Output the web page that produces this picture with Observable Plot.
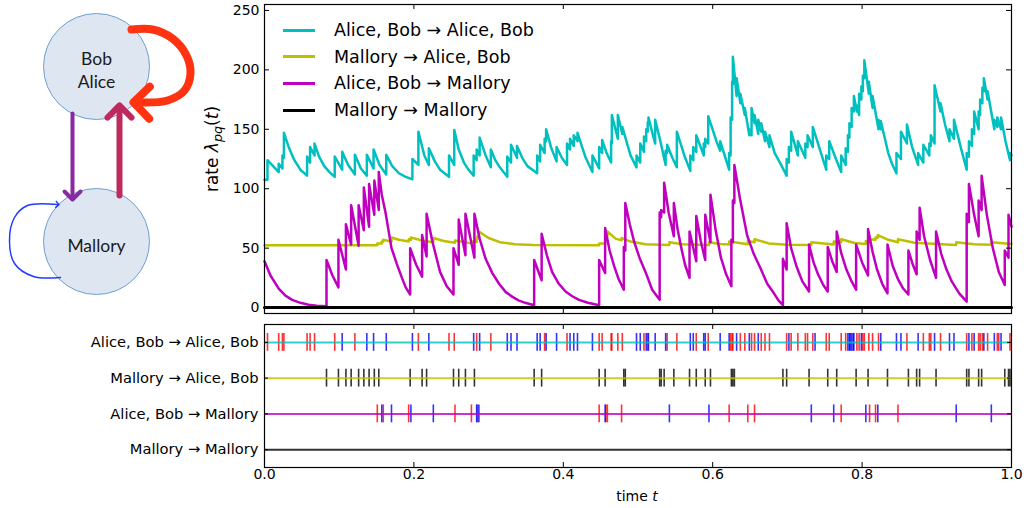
<!DOCTYPE html>
<html><head><meta charset="utf-8">
<script src="https://cdn.jsdelivr.net/npm/d3@7"></script>
<script src="https://cdn.jsdelivr.net/npm/@observablehq/plot@0.6"></script>
<style>
html,body{margin:0;padding:0;background:#fff;}
#root{position:relative;width:1026px;height:508px;overflow:hidden;font-family:"DejaVu Sans",sans-serif;color:#000;}
#root > *{position:absolute;}
.leg{position:absolute;white-space:nowrap;font-size:17.5px;line-height:20px;}
.sw{position:absolute;width:32px;height:0;border-top:3px solid;}
</style></head><body><div id="root"></div>
<script>
// ---------------- DATA ----------------
const seriesLabels = ["Alice, Bob \u2192 Alice, Bob", "Mallory \u2192 Alice, Bob", "Alice, Bob \u2192 Mallory", "Mallory \u2192 Mallory"];
const rateTicks = [0, 50, 100, 150, 200, 250];
const timeTicks = [0, 0.2, 0.4, 0.6, 0.8, 1.0];
const rowIndex = [0, 1, 2, 3];

// rate lambda(t) of "Alice, Bob -> Alice, Bob" : [t, value]
const rateAbToAb = [[0,107.5],[0.004,107.5],[0.004,124],[0.019,114],[0.019,121],[0.024,117],[0.024,128],[0.026,126],[0.026,147],[0.033,134],[0.04,124],[0.048,116],[0.057,111],[0.057,127],[0.061,122],[0.061,135],[0.067,128],[0.067,138],[0.073,127],[0.08,119],[0.087,114],[0.094,110],[0.094,127],[0.104,116],[0.104,131],[0.112,120],[0.121,112],[0.121,128.5],[0.129,117],[0.137,111],[0.137,128.5],[0.146,117],[0.146,133],[0.154,120],[0.163,112],[0.163,128.5],[0.171,119],[0.18,113],[0.189,110],[0.198,108],[0.198,125],[0.206,120],[0.206,148],[0.214,128],[0.22,120],[0.22,134],[0.228,123],[0.235,116],[0.247,110],[0.247,128],[0.254,120],[0.254,149.5],[0.26,133],[0.267,122],[0.273,116],[0.28,111],[0.28,128],[0.284,124],[0.284,133],[0.288,128],[0.288,143],[0.296,128],[0.303,118],[0.303,133],[0.309,124],[0.315,118],[0.325,110],[0.325,127],[0.33,122],[0.33,137],[0.338,126],[0.338,136],[0.345,126],[0.352,119],[0.365,113],[0.365,128],[0.369,123],[0.369,137],[0.375,130],[0.375,142],[0.377,140],[0.377,150],[0.384,134],[0.391,123],[0.391,135],[0.398,126],[0.405,120],[0.405,138],[0.409,133],[0.409,142],[0.414,136],[0.414,145],[0.419,140],[0.419,147],[0.43,126],[0.439,114],[0.439,128],[0.448,117],[0.448,135],[0.452,130],[0.452,141],[0.458,130],[0.464,122],[0.464,140],[0.465,138],[0.465,162],[0.473,142],[0.473,162],[0.479,146],[0.479,152],[0.49,128],[0.498,118],[0.498,128],[0.503,122],[0.503,138],[0.508,131],[0.508,144],[0.511,140],[0.511,150],[0.513,148],[0.513,156],[0.514,155],[0.514,160],[0.52,145],[0.523,138],[0.523,158],[0.53,140],[0.537,120],[0.537,132],[0.539,130],[0.539,137],[0.546,126],[0.552,118],[0.552,148],[0.562,128],[0.57,115],[0.57,128],[0.574,124],[0.574,135],[0.578,131],[0.578,145],[0.588,128],[0.588,138],[0.59,135],[0.59,142],[0.594,138],[0.594,161],[0.605,140],[0.61,132],[0.61,140],[0.622,116],[0.622,130],[0.624,128],[0.624,160],[0.626,158],[0.626,190],[0.627,188],[0.627,211],[0.632,178],[0.632,193],[0.637,172],[0.637,180],[0.643,162],[0.643,168],[0.649,145],[0.649,150],[0.652,145],[0.652,168],[0.656,155],[0.656,162],[0.661,146],[0.661,158],[0.665,148],[0.665,155],[0.67,140],[0.67,148],[0.676,135],[0.676,145],[0.683,130],[0.69,122],[0.699,111],[0.699,125],[0.702,122],[0.702,135],[0.705,132],[0.705,148],[0.714,128],[0.714,140],[0.724,126],[0.724,138],[0.727,135],[0.727,145],[0.734,135],[0.734,152],[0.745,130],[0.752,116],[0.752,128],[0.756,125],[0.756,140],[0.765,125],[0.772,114],[0.772,128],[0.778,120],[0.778,134],[0.781,131],[0.781,145],[0.783,143],[0.783,155],[0.786,152],[0.786,168],[0.789,165],[0.789,178],[0.793,165],[0.793,170],[0.796,162],[0.796,180],[0.799,175],[0.799,186],[0.801,182],[0.801,195],[0.803,193],[0.803,208],[0.809,180],[0.809,190],[0.814,168],[0.814,178],[0.822,150],[0.822,158],[0.825,150],[0.825,157],[0.835,130],[0.84,121],[0.846,113],[0.846,130],[0.852,125],[0.852,148],[0.86,138],[0.86,154],[0.867,135],[0.875,120],[0.875,130],[0.882,122],[0.882,137],[0.89,128],[0.89,138],[0.892,136],[0.892,145],[0.897,138],[0.897,187],[0.905,165],[0.905,172],[0.911,154],[0.917,140],[0.917,150],[0.923,142],[0.923,158],[0.932,135],[0.94,116],[0.94,130],[0.943,127],[0.943,140],[0.947,136],[0.947,150],[0.95,146],[0.95,165],[0.956,150],[0.956,165],[0.958,162],[0.958,175],[0.961,172],[0.961,185],[0.963,182],[0.963,193],[0.968,175],[0.968,182],[0.977,150],[0.977,158],[0.981,152],[0.981,160],[0.986,150],[0.986,160],[0.992,140],[0.998,124],[0.998,130],[1,128]];

// rate of "Mallory -> Alice, Bob"
const rateMToAb = [[0,52.5],[0.151,52.5],[0.151,54],[0.157,53.8],[0.157,55.5],[0.159,55.3],[0.159,57],[0.17,55.5],[0.17,59],[0.18,57],[0.193,55.5],[0.193,57.5],[0.196,57],[0.196,59],[0.21,56.5],[0.226,55],[0.226,58.5],[0.24,56],[0.255,54.5],[0.255,56.5],[0.277,54],[0.277,55.5],[0.284,55.3],[0.284,58],[0.285,58],[0.285,60],[0.287,60],[0.287,64],[0.3,58.5],[0.315,55],[0.335,53.3],[0.36,52.7],[0.448,52.5],[0.448,54],[0.456,53.8],[0.456,57],[0.457,57],[0.457,60],[0.459,60],[0.459,64],[0.47,58],[0.478,56.5],[0.478,58.5],[0.49,55.5],[0.51,53.3],[0.542,52.7],[0.542,55],[0.56,53.3],[0.595,52.7],[0.595,55],[0.61,53.5],[0.622,53],[0.622,55.5],[0.647,53.3],[0.647,56],[0.656,55],[0.656,57.5],[0.675,54],[0.7,52.8],[0.732,52.6],[0.732,55],[0.762,53],[0.762,55.5],[0.772,55],[0.772,57.5],[0.79,54.3],[0.805,53.5],[0.805,56],[0.81,55.5],[0.81,57.5],[0.818,57],[0.818,59],[0.821,58.8],[0.821,61],[0.835,57],[0.848,55],[0.848,57.5],[0.87,54.5],[0.926,52.7],[0.926,55],[0.95,53.3],[0.973,52.8],[0.973,55],[1,53.5]];

// rate of "Alice, Bob -> Mallory"
const rateAbToM = [[0,39],[0.008,27],[0.019,16],[0.028,10],[0.037,6.5],[0.048,4],[0.059,2.3],[0.07,1.5],[0.083,1],[0.083,40],[0.091,27],[0.099,17],[0.099,57],[0.109,32],[0.109,70],[0.116,53],[0.116,86],[0.126,52],[0.126,86],[0.133,65],[0.133,101],[0.14,68],[0.14,104],[0.147,78],[0.147,107],[0.153,82],[0.153,114],[0.157,95],[0.162,80],[0.17,50],[0.177,37],[0.184,25],[0.189,17],[0.195,11],[0.195,50],[0.203,36],[0.211,26],[0.211,61],[0.217,43],[0.217,79],[0.225,55],[0.235,30],[0.244,18],[0.253,11],[0.253,50],[0.26,36],[0.26,74],[0.269,44],[0.269,79],[0.281,42],[0.281,79],[0.288,58],[0.296,41],[0.305,29],[0.314,20],[0.323,13],[0.332,9],[0.34,6],[0.349,4],[0.361,2],[0.361,40],[0.371,23],[0.371,62],[0.378,44],[0.385,30],[0.394,20],[0.403,13.5],[0.412,9.5],[0.421,6.5],[0.433,4],[0.448,2],[0.448,40],[0.456,29],[0.456,67],[0.462,48],[0.468,35],[0.474,24],[0.481,15],[0.481,51],[0.483,48],[0.483,88],[0.489,70],[0.495,55],[0.502,42],[0.51,30],[0.519,15],[0.529,6.5],[0.529,80],[0.531,76],[0.531,82],[0.535,80],[0.535,105],[0.541,80],[0.548,60],[0.548,88],[0.553,66],[0.558,50],[0.563,36],[0.569,25],[0.569,64],[0.578,39],[0.578,77],[0.584,56],[0.59,40],[0.59,78],[0.597,55],[0.597,95],[0.604,65],[0.611,42],[0.618,28],[0.625,18],[0.625,57],[0.627,55],[0.627,90],[0.629,88],[0.629,120],[0.637,90],[0.646,61],[0.655,45],[0.664,33],[0.673,20],[0.682,12],[0.688,6],[0.694,2],[0.694,41],[0.699,32],[0.699,71],[0.705,50],[0.712,35],[0.72,22],[0.729,13.5],[0.729,53],[0.735,38],[0.741,28],[0.748,19],[0.754,13.5],[0.754,51],[0.76,39],[0.766,30],[0.766,64],[0.772,46],[0.779,32],[0.786,22],[0.792,15],[0.792,53],[0.8,38],[0.808,27],[0.808,66],[0.814,47],[0.82,32],[0.827,20],[0.834,12],[0.834,53],[0.841,35],[0.848,24],[0.855,16],[0.862,11],[0.862,48],[0.868,36],[0.873,28],[0.873,64],[0.877,57],[0.877,84],[0.883,60],[0.891,40],[0.899,25],[0.899,64],[0.906,45],[0.913,32],[0.92,22],[0.93,12],[0.94,5],[0.94,79],[0.943,72],[0.943,104],[0.95,78],[0.956,60],[0.956,90],[0.96,82],[0.96,111],[0.967,78],[0.975,50],[0.983,30],[0.991,19],[0.991,48],[0.996,42],[0.996,78],[1,68]];

// rate of "Mallory -> Mallory"
const rateMToM = [[0,0],[1,0]];

// event times (lower panel)
const eventsAbToAbAlice = [0.004,0.019,0.024,0.026,0.057,0.061,0.067,0.094,0.121,0.206,0.247,0.254,0.284,0.303,0.375,0.405,0.448,0.452,0.464,0.465,0.473,0.479,0.508,0.513,0.539,0.552,0.578,0.594,0.624,0.626,0.627,0.637,0.643,0.652,0.656,0.665,0.67,0.676,0.699,0.705,0.714,0.724,0.727,0.734,0.752,0.756,0.772,0.778,0.793,0.796,0.801,0.803,0.809,0.814,0.822,0.86,0.882,0.89,0.892,0.905,0.94,0.947,0.956,0.958,0.961,0.968,0.981,0.983,0.998];
const eventsAbToAbBob = [0.104,0.137,0.146,0.163,0.198,0.22,0.28,0.288,0.325,0.33,0.338,0.365,0.369,0.377,0.391,0.409,0.414,0.419,0.439,0.498,0.503,0.511,0.514,0.523,0.537,0.57,0.574,0.588,0.59,0.61,0.622,0.632,0.649,0.661,0.702,0.737,0.781,0.783,0.784,0.786,0.788,0.789,0.799,0.825,0.846,0.852,0.875,0.897,0.917,0.923,0.943,0.95,0.963,0.977,0.986];
const eventsMToAb = [0.083,0.099,0.109,0.116,0.126,0.133,0.14,0.147,0.153,0.195,0.211,0.217,0.253,0.26,0.269,0.281,0.361,0.371,0.448,0.456,0.481,0.483,0.529,0.531,0.535,0.548,0.569,0.578,0.59,0.597,0.625,0.627,0.629,0.694,0.699,0.729,0.754,0.766,0.792,0.808,0.834,0.862,0.873,0.877,0.899,0.94,0.943,0.956,0.96,0.991,0.996,0.998];
const eventsAbToMAlice = [0.151,0.159,0.193,0.255,0.277,0.285,0.448,0.457,0.459,0.478,0.622,0.647,0.656,0.772,0.81,0.818,0.848];
const eventsAbToMBob = [0.157,0.17,0.196,0.226,0.284,0.287,0.456,0.542,0.595,0.732,0.762,0.805,0.821,0.926,0.973];
const eventsMToM = [];

// diagram (left)
const diagramNodes = [{label: "Bob\nAlice", x: 96, y: 66}, {label: "Mallory", x: 96, y: 241}];
const edgeAbLoop = [[131,29],[152,29],[172,38],[186,55],[190,73],[184,90],[167,100],[141,102]];
const edgeAbToM = [[72,113],[72,195]];
const edgeMToAb = [[119,195],[119,111]];
const edgeMLoop = [[60,277],[33,276],[14,263],[9,240],[14,217],[27,205],[57,204]];

// ---------------- STYLE ----------------
const SERIES_COLORS = ["#00bfbf", "#bfbf00", "#bf00bf", "#000000"];
const SOURCE_COLORS = {alice: "#ff0000", bob: "#0000ff", mallory: "#000000"};
const FONT = "DejaVu Sans";
const root = document.getElementById("root");

// ---------------- DIAGRAM ----------------
const pts = () => ({x: d => d[0], y: d => d[1]});
const diagram = Plot.plot({
  width: 260, height: 300, margin: 0,
  style: {background: "transparent", overflow: "visible"},
  x: {domain: [0, 260], axis: null},
  y: {domain: [0, 300], reverse: true, axis: null},
  marks: [
    Plot.dot(diagramNodes, {x: "x", y: "y", r: 53, fill: "#dde6f1", stroke: "#6f9fd3", strokeWidth: 1}),
    Plot.text(diagramNodes, {x: "x", y: "y", text: "label", fontSize: 17.5, fontFamily: "Lato", lineHeight: 1.3, dy: 3, fill: "#1b1b1b"}),
    Plot.line(edgeAbToM, {...pts(), stroke: "#8a2aa3", strokeWidth: 4, markerEnd: "arrow"}),
    Plot.line(edgeMToAb, {...pts(), stroke: "#bf2a5e", strokeWidth: 6, markerEnd: "arrow"}),
    Plot.line(edgeAbLoop, {...pts(), curve: "catmull-rom", stroke: "#ff3311", strokeWidth: 8, markerEnd: "arrow"}),
    Plot.line(edgeMLoop, {...pts(), curve: "catmull-rom", stroke: "#1f3cff", strokeWidth: 1.5, markerEnd: "arrow"})
  ]
});
diagram.style.left = "0px"; diagram.style.top = "0px";
root.appendChild(diagram);

// ---------------- TOP PANEL: rates ----------------
const FW = 747, FH = 309;
const rates = [rateAbToAb, rateMToAb, rateAbToM, rateMToM];
const topChart = Plot.plot({
  width: 826, height: 320, marginLeft: 64, marginRight: 15, marginTop: 4, marginBottom: 7,
  style: {background: "transparent", fontFamily: FONT, fontSize: "14px", overflow: "visible"},
  x: {domain: [0, 1], axis: null},
  y: {domain: [-5, 255]},
  marks: [
    ...rates.map((r, i) => Plot.line(r, {x: d => d[0], y: d => d[1], stroke: SERIES_COLORS[i], strokeWidth: i === 3 ? 3 : 2.5, strokeLinejoin: "round"})),
    Plot.tickX(timeTicks, {x: d => d, insetTop: FH - 5, stroke: "#000"}),
    Plot.tickX(timeTicks, {x: d => d, insetBottom: FH - 5, stroke: "#000"}),
    Plot.tickY(rateTicks, {y: d => d, insetRight: FW - 5, stroke: "#000"}),
    Plot.tickY(rateTicks, {y: d => d, insetLeft: FW - 5, stroke: "#000"}),
    Plot.frame({stroke: "#000", strokeWidth: 1.2}),
    Plot.axisY(rateTicks, {anchor: "left", tickSize: 0, tickPadding: 5, fontSize: 14, label: null})
  ]
});
topChart.style.left = "200px"; topChart.style.top = "0px";
root.appendChild(topChart);

// ---------------- BOTTOM PANEL: events ----------------
const RW = 747, RH = 143;
const events = [
  ...eventsAbToAbAlice.map(t => ({t, row: 0, src: "alice"})),
  ...eventsAbToAbBob.map(t => ({t, row: 0, src: "bob"})),
  ...eventsMToAb.map(t => ({t, row: 1, src: "mallory"})),
  ...eventsAbToMAlice.map(t => ({t, row: 2, src: "alice"})),
  ...eventsAbToMBob.map(t => ({t, row: 2, src: "bob"})),
  ...eventsMToM.map(t => ({t, row: 3, src: "mallory"}))
];
const raster = Plot.plot({
  width: 1026, height: 190, marginLeft: 264, marginRight: 15, marginTop: 6, marginBottom: 41,
  style: {background: "transparent", fontFamily: FONT, fontSize: "14px", overflow: "visible"},
  x: {domain: [0, 1]},
  y: {domain: [-0.5, 3.5], reverse: true},
  color: {type: "identity"},
  marks: [
    Plot.ruleX(events, {x: "t", y1: d => d.row - 0.25, y2: d => d.row + 0.25, stroke: d => SOURCE_COLORS[d.src], strokeWidth: 1.6, strokeOpacity: 0.8}),
    Plot.ruleY(rowIndex, {y: d => d, stroke: d => SERIES_COLORS[d], strokeWidth: 2, strokeOpacity: 0.8}),
    Plot.tickX(timeTicks, {x: d => d, insetTop: RH - 5, stroke: "#000"}),
    Plot.tickX(timeTicks, {x: d => d, insetBottom: RH - 5, stroke: "#000"}),
    Plot.tickY(rowIndex, {y: d => d, insetRight: RW - 4, stroke: "#000"}),
    Plot.tickY(rowIndex, {y: d => d, insetLeft: RW - 4, stroke: "#000"}),
    Plot.frame({stroke: "#000", strokeWidth: 1.2}),
    Plot.axisY(rowIndex, {anchor: "left", tickSize: 0, tickPadding: 6, tickFormat: i => seriesLabels[i], fontSize: 14.7, label: null}),
    Plot.axisX(timeTicks, {anchor: "bottom", tickSize: 0, tickPadding: 2, tickFormat: d3.format(".1f"), fontSize: 14, label: null})
  ]
});
raster.style.left = "0px"; raster.style.top = "318px";
root.appendChild(raster);

// ---------------- LEGEND & LABELS ----------------
const legendRowsY = [30, 56.7, 83.3, 110];
seriesLabels.forEach((lab, i) => {
  const sw = document.createElement("div");
  sw.className = "sw";
  sw.style.borderTopColor = SERIES_COLORS[i];
  sw.style.left = "283px"; sw.style.top = (legendRowsY[i] - 1.5) + "px";
  root.appendChild(sw);
  const tx = document.createElement("div");
  tx.className = "leg";
  tx.textContent = lab;
  tx.style.left = "334px"; tx.style.top = (legendRowsY[i] - 10) + "px";
  root.appendChild(tx);
});

const yLab = document.createElement("div");
yLab.innerHTML = 'rate <i>\u03bb</i><sub style="font-size:75%"><i>pq</i></sub>(<i>t</i>)';
Object.assign(yLab.style, {left: "215px", top: "149px", transform: "translate(-50%,-50%) rotate(-90deg)", whiteSpace: "nowrap", fontSize: "17px", lineHeight: "20px"});
root.appendChild(yLab);

const xLab = document.createElement("div");
xLab.innerHTML = 'time <i>t</i>';
Object.assign(xLab.style, {left: "637px", top: "496px", transform: "translate(-50%,-50%)", whiteSpace: "nowrap", fontSize: "14px"});
root.appendChild(xLab);
</script></body></html>
